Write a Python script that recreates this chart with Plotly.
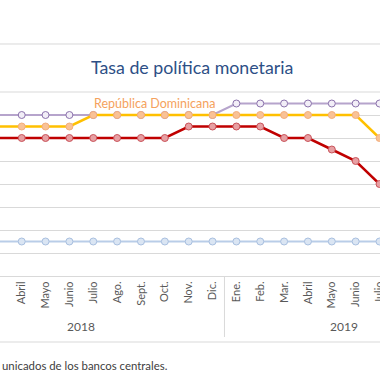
import plotly.graph_objects as go

# month index: 0 = Ene. 2018
month_idx = list(range(2, 19))
month_labels = ["Mar.", "Abril", "Mayo", "Junio", "Julio", "Ago.", "Sept.", "Oct.", "Nov.", "Dic.",
                "Ene.", "Feb.", "Mar.", "Abril", "Mayo", "Junio", "Julio"]

rep_dom = [5.25, 5.25, 5.25, 5.25, 5.5, 5.5, 5.5, 5.5, 5.5, 5.5,
           5.5, 5.5, 5.5, 5.5, 5.5, 5.5, 5.0]
purple_series = [5.5, 5.5, 5.5, 5.5, 5.5, 5.5, 5.5, 5.5, 5.5, 5.5,
                 5.75, 5.75, 5.75, 5.75, 5.75, 5.75, 5.75]
red_series = [5.0, 5.0, 5.0, 5.0, 5.0, 5.0, 5.0, 5.0, 5.25, 5.25,
              5.25, 5.25, 5.0, 5.0, 4.75, 4.5, 4.0]
blue_series = [2.75, 2.75, 2.75, 2.75, 2.75, 2.75, 2.75, 2.75, 2.75, 2.75,
               2.75, 2.75, 2.75, 2.75, 2.75, 2.75, 2.75]

years = ["2018", "2019"]
year_centers = [5.5, 16.5]
separators = [11.5]

fig = go.Figure()

def add(y, line_color, width, mfill, mline):
    fig.add_trace(go.Scatter(
        x=month_idx, y=y, mode="lines+markers",
        line=dict(color=line_color, width=width),
        marker=dict(size=7, color=mfill, line=dict(color=mline, width=1)),
        showlegend=False, hoverinfo="skip", cliponaxis=False))

add(blue_series, "#B9CDE8", 2, "#DAE5F3", "#A9C0E0")
add(red_series, "#C00000", 2.5, "#E7A0A3", "#C9535A")
add(purple_series, "#B6A4CC", 2.2, "#F2EEF7", "#8B72AC")
add(rep_dom, "#FFC000", 2.5, "#F9C296", "#F3AE7E")

fig.update_layout(
    template="plotly_white",
    width=380, height=380,
    margin=dict(l=0, r=0, t=92, b=104),
    paper_bgcolor="white", plot_bgcolor="white",
    xaxis=dict(range=[2.09, 18.02], tickvals=month_idx, ticktext=month_labels,
               tickangle=-90, showgrid=False, zeroline=False, automargin=False,
               ticklabeloverflow="allow",
               showline=True, linecolor="#D9D9D9", linewidth=1,
               ticks="", tickfont=dict(family="Lato", size=11, color="#595959")),
    yaxis=dict(range=[2.0, 6.0], dtick=0.5, showticklabels=False, automargin=False,
               gridcolor="#D9D9D9", gridwidth=1, zeroline=False, showline=False),
)

shapes = []
for s in separators:
    shapes.append(dict(type="line", xref="x", yref="paper", x0=s, x1=s, y0=0, y1=-0.3315,
                       line=dict(color="#D9D9D9", width=1)))
for yy in [1.2609, 1.0, -0.3587]:
    shapes.append(dict(type="line", xref="paper", yref="paper", x0=0, x1=1, y0=yy, y1=yy,
                       line=dict(color="#D9D9D9", width=1), layer="below"))
fig.update_layout(shapes=shapes)

ann = []
ann.append(dict(text="Tasa de política monetaria", xref="paper", yref="paper",
                x=0.504, y=1.136, xanchor="center", yanchor="middle", showarrow=False,
                font=dict(family="Lato", size=17.8, color="#2D4F86")))
ann.append(dict(text="República Dominicana", xref="x", yref="y", x=8.57, y=5.76,
                xanchor="center", yanchor="middle", showarrow=False,
                font=dict(family="Lato", size=12.5, color="#F5A25D")))
for yr, c in zip(years, year_centers):
    ann.append(dict(text=yr, xref="x", yref="paper", x=c, y=-0.277, xanchor="center",
                    yanchor="middle", showarrow=False,
                    font=dict(family="Lato", size=12, color="#595959")))
ann.append(dict(text="unicados de los bancos centrales.", xref="paper", yref="paper",
                x=0, y=-0.489, xanchor="left", yanchor="middle", showarrow=False,
                font=dict(family="Lato", size=11.4, color="#404040")))
fig.update_layout(annotations=ann)

fig.write_html("out.html", config={"displayModeBar": False},
               post_script="document.body.style.margin='0';document.body.style.padding='0';")
